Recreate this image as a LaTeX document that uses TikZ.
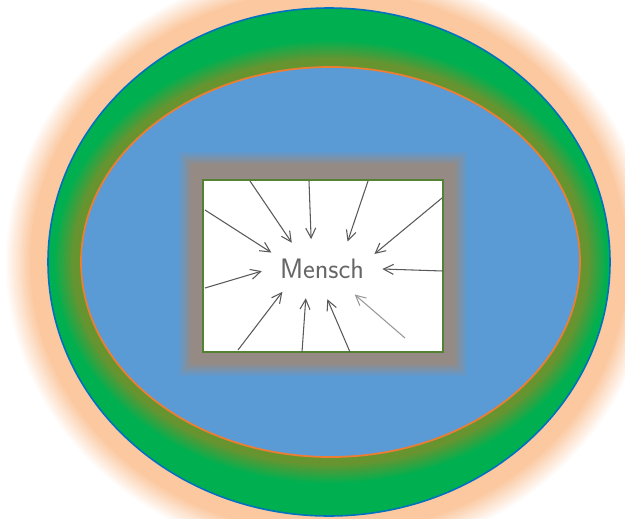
\documentclass[tikz,border=0pt]{standalone}
\usepackage{xcolor}
\usetikzlibrary{arrows.meta, shapes.geometric}

\definecolor{peach}{RGB}{251,200,160}
\definecolor{ringgreen}{RGB}{0,176,80}
\definecolor{ringblue}{RGB}{0,112,192}
\definecolor{shadeolive}{RGB}{104,148,48}
\definecolor{lakeblue}{RGB}{91,155,213}
\definecolor{rimorange}{RGB}{237,125,49}
\definecolor{frameshade}{RGB}{150,138,132}
\definecolor{framegreen}{RGB}{84,130,53}

\begin{document}
\begin{tikzpicture}[x=0.02cm, y=-0.02cm,
    frame/.style={draw=framegreen, line width=0.9pt, fill=white, minimum width=4.8cm, minimum height=3.44cm},
    word/.style={ellipse, minimum width=2.4cm, minimum height=1.2cm, inner sep=0pt, text=black!60, font=\sffamily\fontsize{16}{19}\selectfont},
    arr/.style={-{Straight Barb[length=2mm, width=2mm]}, draw=black!65, line width=0.6pt}
]
    \useasboundingbox (0,0) rectangle (625,518);
    \clip (0,0) rectangle (625,518);

    % outer ring with its glow
    \foreach \d [evaluate=\d as \p using {int((44-\d)*100/26)}] in {44,42,...,20}
        \fill[peach!\p!white] (329,262) ellipse [x radius=281+\d, y radius=254+\d];
    \fill[peach] (329,262) ellipse [x radius=299, y radius=272];
    \fill[ringgreen] (329,262) ellipse [x radius=281, y radius=254];
    \begin{scope}
        \clip (329,262) ellipse [x radius=281, y radius=254];
        \foreach \d [evaluate=\d as \p using {int((28-\d)*100/20)}] in {28,26,...,8}
            \fill[shadeolive!\p!ringgreen] (330.5,262) ellipse [x radius=249.5+\d, y radius=195+\d];
    \end{scope}
    \draw[ringblue, line width=0.9pt] (329,262) ellipse [x radius=281, y radius=254];
    \filldraw[fill=lakeblue, draw=rimorange, line width=1pt] (330.5,262) ellipse [x radius=249.5, y radius=195];

    % picture in the middle
    \foreach \d [evaluate=\d as \p using {int((26-\d)*100/14)}] in {26,24,...,12}
        \fill[frameshade!\p!lakeblue] (203-\d,180-\d-4) rectangle (443+\d,352+\d);
    \node[frame] (bild) at (323,266) {};
    \node[word] (mensch) at (322,269) {Mensch};

    \coordinate (s1)  at (205,210);
    \coordinate (s2)  at (250,181);
    \coordinate (s3)  at (309,181);
    \coordinate (s4)  at (368,181);
    \coordinate (s5)  at (442,198);
    \coordinate (s6)  at (443,271);
    \coordinate (s7)  at (205,288);
    \coordinate (s8)  at (238,350);
    \coordinate (s9)  at (302,352);
    \coordinate (s10) at (350,352);
    \coordinate (s11) at (405,338);

    \draw[arr] (s1)  -- (mensch.162);
    \draw[arr] (s2)  -- (mensch.139);
    \draw[arr] (s3)  -- (mensch.110);
    \draw[arr] (s4)  -- (mensch.47);
    \draw[arr] (s5)  -- (mensch.16);
    \draw[arr] (s6)  -- (mensch.0);
    \draw[arr] (s7)  -- (mensch.182);
    \draw[arr] (s8)  -- (mensch.210);
    \draw[arr] (s9)  -- (mensch.241);
    \draw[arr] (s10) -- (mensch.280);
    \draw[arr, draw=black!40] (s11) -- (mensch.322);
\end{tikzpicture}
\end{document}
